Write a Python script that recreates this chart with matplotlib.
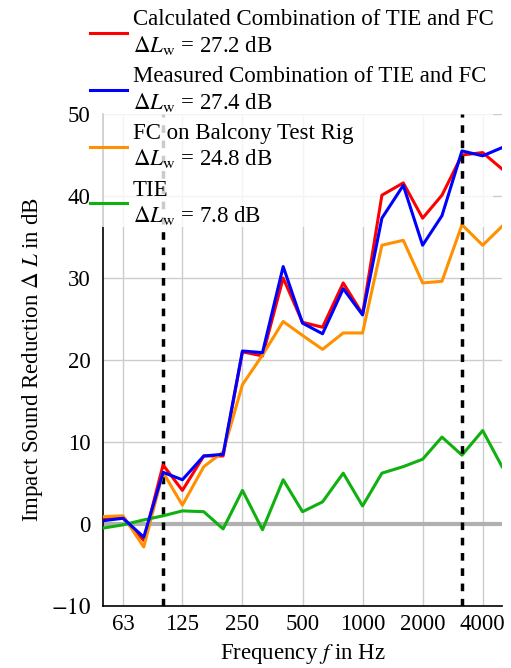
import numpy as np
import matplotlib.pyplot as plt
from matplotlib.ticker import FixedLocator, NullLocator

plt.rcParams['font.family'] = ['Liberation Serif', 'DejaVu Serif']
plt.rcParams['mathtext.fontset'] = 'stix'

# third-octave band centre frequencies
freq = [50, 63, 80, 100, 125, 160, 200, 250, 315, 400, 500, 630, 800,
        1000, 1250, 1600, 2000, 2500, 3150, 4000, 5000]

calc = [0.7, 0.8, -2.0, 7.2, 4.1, 8.3, 8.3, 21.0, 20.5, 30.0, 24.6, 24.0,
        29.4, 25.6, 40.1, 41.6, 37.3, 40.1, 45.0, 45.3, 43.3]
meas = [0.4, 0.7, -1.6, 6.3, 5.4, 8.3, 8.5, 21.1, 20.9, 31.4, 24.5, 23.2,
        28.7, 25.5, 37.3, 41.3, 34.0, 37.6, 45.5, 44.9, 45.9]
fc = [0.9, 1.0, -2.8, 6.3, 2.3, 7.0, 8.8, 17.0, 20.6, 24.7, 23.0, 21.3,
      23.3, 23.3, 34.0, 34.6, 29.4, 29.6, 36.5, 34.0, 36.3]
tie = [-0.5, -0.1, 0.5, 1.0, 1.6, 1.5, -0.6, 4.1, -0.7, 5.4, 1.5, 2.7,
       6.2, 2.2, 6.2, 7.0, 7.9, 10.6, 8.4, 11.4, 7.0]

labels = ['Calculated Combination of TIE and FC\n$\\Delta L_\\mathrm{w}$ = 27.2 dB',
          'Measured Combination of TIE and FC\n$\\Delta L_\\mathrm{w}$ = 27.4 dB',
          'FC on Balcony Test Rig\n$\\Delta L_\\mathrm{w}$ = 24.8 dB',
          'TIE\n$\\Delta L_\\mathrm{w}$ = 7.8 dB']
xticks = [63, 125, 250, 500, 1000, 2000, 4000]
limits = [100, 3150]

fs = 16.5

fig = plt.figure(figsize=(5.11, 6.68), dpi=100)
ax = fig.add_axes([0.2016, 0.0928, 0.7808, 0.7365])

ax.axhline(0, color='#b0b0b0', lw=3, zorder=1)
ax.axvline(limits[0], color='black', lw=2.5, ls=(0, (2.2, 2.2)), zorder=3)
ax.axvline(limits[1], color='black', lw=2.5, ls=(0, (2.2, 2.2)), zorder=6)

ax.plot(freq, calc, color='#ff0000', lw=2.2, label=labels[0], zorder=4)
ax.plot(freq, meas, color='#0000ff', lw=2.2, label=labels[1], zorder=5)
ax.plot(freq, fc, color='#ff9000', lw=2.2, label=labels[2], zorder=4)
ax.plot(freq, tie, color='#10b010', lw=2.2, label=labels[3], zorder=4)

ax.set_xscale('log')
ax.set_xlim(50, 5000)
ax.set_ylim(-10, 50)
ax.xaxis.set_major_locator(FixedLocator(xticks))
ax.xaxis.set_minor_locator(NullLocator())
ax.set_xticklabels([str(t) for t in xticks])
ax.set_yticks([-10, 0, 10, 20, 30, 40, 50])
ax.set_yticklabels(['$-10$', '0', '10', '20', '30', '40', '50'])
ax.tick_params(axis='x', length=0, labelsize=fs, pad=6)
ax.tick_params(axis='y', length=0, labelsize=fs, pad=9)
ax.grid(True, color='#cccccc', lw=1)
ax.set_axisbelow(True)

for s in ['top', 'right']:
    ax.spines[s].set_visible(False)
for s in ['left', 'bottom']:
    ax.spines[s].set_linewidth(1.2)

ax.set_xlabel('Frequency $f$ in Hz', fontsize=fs, labelpad=5)
ax.set_ylabel('Impact Sound Reduction $\\Delta\\ L$ in dB', fontsize=fs, labelpad=4)

leg = ax.legend(loc='upper left', bbox_to_anchor=(0.176, 0.986),
                bbox_transform=fig.transFigure,
                fontsize=fs, frameon=True, framealpha=0.8,
                handlelength=1.6, handletextpad=0.26, labelspacing=0.4,
                borderpad=0.0, borderaxespad=0)
leg.get_frame().set_edgecolor('none')
leg.get_frame().set_facecolor('white')
leg.set_zorder(3.5)

fig.savefig('out.png', dpi=100)
